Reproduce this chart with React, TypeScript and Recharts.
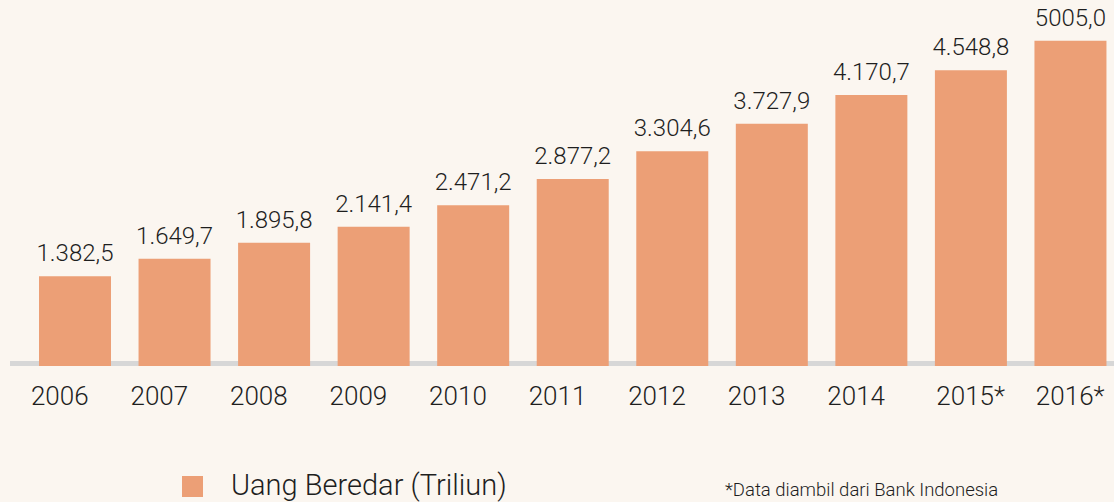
import { BarChart, Bar, XAxis, YAxis, LabelList } from 'recharts'

const tahun = ['2006', '2007', '2008', '2009', '2010', '2011', '2012', '2013', '2014', '2015*', '2016*']
const uangBeredar = [1382.5, 1649.7, 1895.8, 2141.4, 2471.2, 2877.2, 3304.6, 3727.9, 4170.7, 4548.8, 5005.0]
const labelNilai = ['1.382,5', '1.649,7', '1.895,8', '2.141,4', '2.471,2', '2.877,2', '3.304,6', '3.727,9', '4.170,7', '4.548,8', '5005,0']

const data = tahun.map((t, i) => ({ tahun: t, nilai: uangBeredar[i], label: labelNilai[i] }))

const BAR = '#ec9f76'
const BG = '#fbf6f0'
const FONT = 'Roboto, sans-serif'

// label tahun tanpa tanda * agak bergeser ke kiri seperti di gambar asli
function TickTahun(props: any) {
  const { x, y, payload } = props
  const v = String(payload.value)
  const geser = v.endsWith('*') ? 0 : -15
  return (
    <text
      x={x + geser}
      y={y}
      dy="0.71em"
      textAnchor="middle"
      fontSize={26}
      fill="#1e1e1e"
      fontFamily={FONT}
      fontWeight={300}
    >
      {v}
    </text>
  )
}

export default function App() {
  return (
    <div
      style={{
        position: 'absolute',
        top: 0,
        left: 0,
        width: 1114,
        height: 502,
        overflow: 'hidden',
        background: BG,
        fontFamily: FONT,
        fontWeight: 300,
      }}
    >
      <div style={{ position: 'absolute', left: 10, top: 361, width: 1104, height: 5, background: '#d7d7d7' }} />
      <div style={{ position: 'absolute', left: 0, top: 0 }}>
        <BarChart width={1120} height={502} data={data} margin={{ top: 2, right: 0, left: 25, bottom: 76 }}>
          <XAxis
            dataKey="tahun"
            axisLine={false}
            tickLine={false}
            tickSize={0}
            tickMargin={21}
            height={60}
            interval={0}
            tick={<TickTahun />}
          />
          <YAxis hide domain={[0, 5600]} />
          <Bar dataKey="nilai" fill={BAR} barSize={72} isAnimationActive={false}>
            <LabelList
              dataKey="label"
              position="top"
              offset={15}
              style={{ fontSize: 24, fill: '#1e1e1e', fontFamily: FONT, fontWeight: 300 }}
            />
          </Bar>
        </BarChart>
      </div>
      <div style={{ position: 'absolute', left: 182, top: 476, width: 21, height: 21, background: BAR }} />
      <div style={{ position: 'absolute', left: 231, top: 468, fontSize: 29, color: '#1e1e1e', lineHeight: '34px' }}>
        Uang Beredar (Triliun)
      </div>
      <div style={{ position: 'absolute', left: 725, top: 480, fontSize: 18.5, color: '#1e1e1e', lineHeight: '20px' }}>
        *Data diambil dari Bank Indonesia
      </div>
    </div>
  )
}
